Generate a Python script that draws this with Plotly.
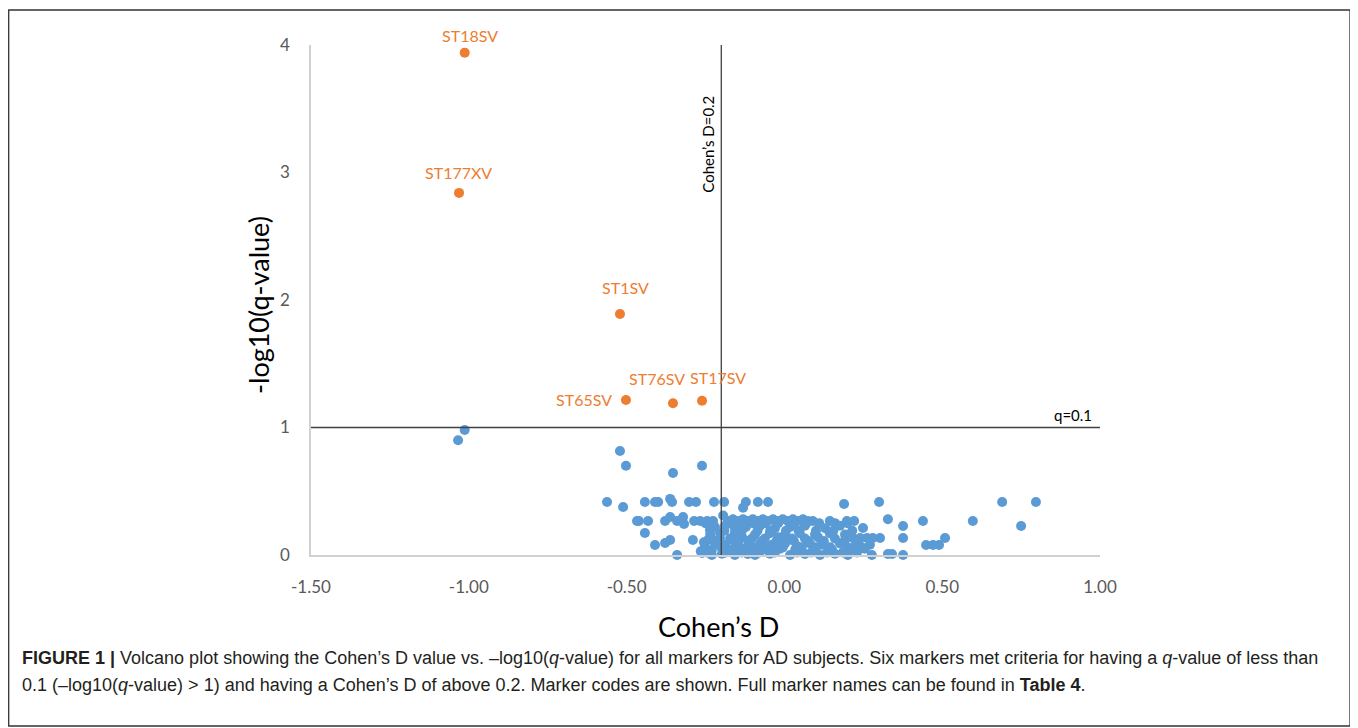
import plotly.graph_objects as go

# ---------------- data ----------------
sig_labels = ["ST18SV", "ST177XV", "ST1SV", "ST65SV", "ST76SV", "ST17SV"]
sig_x = [-1.013, -1.031, -0.521, -0.502, -0.353, -0.261]
sig_y = [3.94, 2.84, 1.89, 1.216, 1.19, 1.21]

blue_x = [
    -1.034, -1.013, -0.521, -0.502, -0.353, -0.261,
    -0.562, -0.442, -0.410, -0.400, -0.356, -0.302, -0.280, -0.223, -0.191, -0.122, -0.084, -0.052, 0.300, 0.690, 0.797,
    -0.362, 0.189, -0.131, -0.511,
    -0.467, -0.461, -0.432, -0.378, -0.340, -0.286, -0.267, -0.245, -0.226, -0.194, -0.178, -0.163, -0.147, -0.131,
    -0.116, -0.100, -0.084, -0.068, -0.052, -0.036, -0.021, -0.005, 0.011, 0.027, 0.043, 0.059, 0.074, 0.090,
    0.144, 0.198, 0.221, 0.439, 0.597,
    -0.362, -0.321, 0.328, -0.318,
    -0.236, -0.220, -0.188, -0.157, -0.122, -0.077, -0.030, 0.018, 0.065, 0.129, 0.176, 0.249, 0.376, 0.750,
    -0.442, -0.204, -0.157, -0.093, -0.046, 0.002, 0.049, 0.097, 0.144, 0.192,
    -0.204, -0.172, -0.134, -0.103, -0.062, -0.020, 0.024, 0.065, 0.106, 0.160, 0.217, 0.240, 0.262, 0.280, 0.303, 0.376, 0.509,
    -0.362, -0.290, -0.242,
    -0.410, -0.378, -0.252, -0.220, -0.188, -0.147, -0.116, -0.077, -0.039, 0.002, 0.040, 0.081, 0.119, 0.176, 0.223, 0.271, 0.449, 0.471, 0.490,
    -0.230, -0.172, -0.125, -0.071, -0.014, 0.034, 0.097, 0.151, 0.208, 0.255,
    -0.340, -0.261, -0.230, -0.198, -0.157, -0.116, -0.093, -0.046, 0.018, 0.065, 0.113, 0.160, 0.201, 0.277, 0.328, 0.341, 0.376,
    -0.180, -0.140, -0.100, -0.060, -0.020, 0.030, 0.070, 0.110, 0.160, 0.200,
    -0.190, -0.135, -0.085, -0.045, 0.005, 0.045, 0.100, 0.155, 0.215,
    -0.215, -0.160, -0.115, -0.070, -0.025, 0.030, 0.075, 0.125, 0.190, 0.235,
    -0.200, -0.155, -0.100, -0.055, -0.005, 0.055, 0.100, 0.145, 0.200, 0.245,
    -0.245, -0.185, -0.135, -0.080, -0.030, 0.040, 0.085, 0.135, 0.185, 0.230,
    -0.255, -0.265, -0.235, -0.250,
]
blue_y = [
    0.90, 0.98, 0.816, 0.70, 0.643, 0.70,
    0.416, 0.416, 0.416, 0.416, 0.416, 0.416, 0.416, 0.416, 0.416, 0.416, 0.416, 0.416, 0.416, 0.416, 0.416,
    0.44, 0.40, 0.37, 0.376,
    0.267, 0.267, 0.267, 0.267, 0.267, 0.267, 0.267, 0.267, 0.267, 0.31, 0.267, 0.28, 0.267, 0.28,
    0.267, 0.28, 0.267, 0.28, 0.267, 0.28, 0.267, 0.28, 0.267, 0.28, 0.267, 0.28, 0.267, 0.267,
    0.267, 0.267, 0.267, 0.267, 0.267,
    0.298, 0.298, 0.28, 0.243,
    0.196, 0.22, 0.23, 0.21, 0.22, 0.23, 0.21, 0.22, 0.23, 0.21, 0.23, 0.212, 0.227, 0.227,
    0.173, 0.17, 0.17, 0.16, 0.17, 0.16, 0.17, 0.16, 0.17, 0.16,
    0.133, 0.13, 0.14, 0.13, 0.13, 0.14, 0.13, 0.13, 0.14, 0.13, 0.133, 0.133, 0.133, 0.133, 0.133, 0.133, 0.133,
    0.118, 0.118, 0.118,
    0.078, 0.094, 0.063, 0.09, 0.08, 0.09, 0.07, 0.09, 0.08, 0.09, 0.07, 0.09, 0.08, 0.09, 0.07, 0.08, 0.078, 0.078, 0.078,
    0.04, 0.04, 0.05, 0.04, 0.05, 0.04, 0.05, 0.04, 0.04, 0.05,
    0.0, 0.016, 0.0, 0.01, 0.0, 0.008, 0.0, 0.01, 0.0, 0.008, 0.0, 0.01, 0.0, 0.0, 0.008, 0.008, 0.0,
    0.25, 0.25, 0.25, 0.25, 0.25, 0.25, 0.25, 0.25, 0.25, 0.25,
    0.19, 0.19, 0.19, 0.19, 0.19, 0.19, 0.19, 0.19, 0.19,
    0.11, 0.11, 0.11, 0.11, 0.11, 0.11, 0.11, 0.11, 0.11, 0.11,
    0.06, 0.06, 0.06, 0.06, 0.06, 0.06, 0.06, 0.06, 0.06, 0.06,
    0.02, 0.02, 0.02, 0.02, 0.02, 0.02, 0.02, 0.02, 0.02, 0.02,
    0.10, 0.03, 0.16, 0.25,
]

x_tickvals = [-1.5, -1.0, -0.5, 0.0, 0.5, 1.0]
x_ticktext = ["-1.50", "-1.00", "-0.50", "0.00", "0.50", "1.00"]
y_tickvals = [0, 1, 2, 3, 4]
y_ticktext = ["0", "1", "2", "3", "4"]

d_threshold = -0.2
q_threshold = 1.0

# ---------------- styling ----------------
BLUE = "#5B9BD5"
ORANGE = "#ED7D31"
FONT = "Lato, 'Open Sans', sans-serif"
CAP_FONT = "'Liberation Sans', Arial, sans-serif"

OFF = 8  # default page body margin
W, H = 1358 - OFF, 728 - OFF
L, T = 311 - OFF, 45 - OFF
PW, PH = 789, 510
R, B = W - L - PW, H - T - PH


def px(x):
    """page pixel x -> paper coordinate"""
    return (x - OFF - L) / PW


def py(y):
    """page pixel y -> paper coordinate"""
    return (T + PH - (y - OFF)) / PH


fig = go.Figure()
fig.add_trace(go.Scatter(
    x=blue_x, y=blue_y, mode="markers",
    marker=dict(color=BLUE, size=10, line=dict(width=0)),
    cliponaxis=False, hoverinfo="x+y", showlegend=False,
))
fig.add_trace(go.Scatter(
    x=sig_x, y=sig_y, mode="markers",
    marker=dict(color=ORANGE, size=10, line=dict(width=0)),
    cliponaxis=False, text=sig_labels, hoverinfo="text+x+y", showlegend=False,
))

label_style = {
    "ST18SV": dict(xshift=5, yshift=17, xanchor="center"),
    "ST177XV": dict(xshift=-1, yshift=20, xanchor="center"),
    "ST1SV": dict(xshift=6, yshift=27, xanchor="center"),
    "ST65SV": dict(xshift=-12, yshift=0, xanchor="right"),
    "ST76SV": dict(xshift=-16, yshift=25, xanchor="center"),
    "ST17SV": dict(xshift=16, yshift=23, xanchor="center"),
}
annotations = []
for lab, x, y in zip(sig_labels, sig_x, sig_y):
    st = label_style[lab]
    annotations.append(dict(
        x=x, y=y, xref="x", yref="y", text=lab, showarrow=False,
        xanchor=st["xanchor"], yanchor="middle", xshift=st["xshift"], yshift=st["yshift"],
        font=dict(family=FONT, size=16, color=ORANGE),
    ))

# threshold labels
annotations.append(dict(
    x=d_threshold, y=3.22, xref="x", yref="y", text="Cohen’s D=0.2", showarrow=False,
    textangle=-90, xanchor="right", yanchor="middle", xshift=-2,
    font=dict(family=FONT, size=15, color="#000000"),
))
annotations.append(dict(
    x=1.0, y=q_threshold, xref="x", yref="y", text="q=0.1", showarrow=False,
    xanchor="right", yanchor="bottom", xshift=-6, yshift=2,
    font=dict(family=FONT, size=15, color="#000000"),
))

# axis titles
annotations.append(dict(
    x=px(258), y=py(305), xref="paper", yref="paper", text="-log10(q-value)", showarrow=False,
    textangle=-90, xanchor="center", yanchor="middle",
    font=dict(family=FONT, size=27, color="#000000"),
))
annotations.append(dict(
    x=px(718), y=py(626), xref="paper", yref="paper", text="Cohen’s D", showarrow=False,
    xanchor="center", yanchor="middle",
    font=dict(family=FONT, size=27, color="#000000"),
))

# caption
cap1 = ("<b>FIGURE 1 |</b> Volcano plot showing the Cohen’s D value vs. –log10(<i>q</i>-value) for all markers "
        "for AD subjects. Six markers met criteria for having a <i>q</i>-value of less than")
cap2 = ("0.1 (–log10(<i>q</i>-value) &gt; 1) and having a Cohen’s D of above 0.2. Marker codes are shown. "
        "Full marker names can be found in <b>Table 4</b>.")
for txt, yy in [(cap1, 658), (cap2, 685)]:
    annotations.append(dict(
        x=px(20), y=py(yy), xref="paper", yref="paper", text=txt, showarrow=False,
        xanchor="left", yanchor="middle", align="left",
        font=dict(family=CAP_FONT, size=18, color="#231f20"),
    ))

shapes = [
    dict(type="line", xref="x", yref="y", x0=d_threshold, x1=d_threshold, y0=0, y1=4,
         line=dict(color="#404040", width=1.3)),
    dict(type="line", xref="x", yref="y", x0=-1.5, x1=1.0, y0=q_threshold, y1=q_threshold,
         line=dict(color="#404040", width=1.3)),
    dict(type="rect", xref="paper", yref="paper", x0=px(8.7), x1=px(1350), y0=py(726), y1=py(10),
         line=dict(color="#333333", width=1.3), fillcolor="rgba(0,0,0,0)", layer="below"),
]

fig.update_layout(
    width=W, height=H,
    margin=dict(l=L, r=R, t=T, b=B, pad=0),
    paper_bgcolor="white", plot_bgcolor="white",
    showlegend=False,
    annotations=annotations, shapes=shapes,
    xaxis=dict(
        range=[-1.5, 1.0], tickvals=x_tickvals, ticktext=x_ticktext,
        showgrid=False, zeroline=False, showline=True, linecolor="#d0d0d0", linewidth=2,
        ticks="", ticklabelstandoff=16,
        tickfont=dict(family=FONT, size=17, color="#595959"),
    ),
    yaxis=dict(
        range=[0, 4], tickvals=y_tickvals, ticktext=y_ticktext,
        showgrid=False, zeroline=False, showline=True, linecolor="#d0d0d0", linewidth=1.5,
        ticks="", ticklabelstandoff=16,
        tickfont=dict(family=FONT, size=17, color="#595959"),
    ),
)

fig.write_html("out.html")
